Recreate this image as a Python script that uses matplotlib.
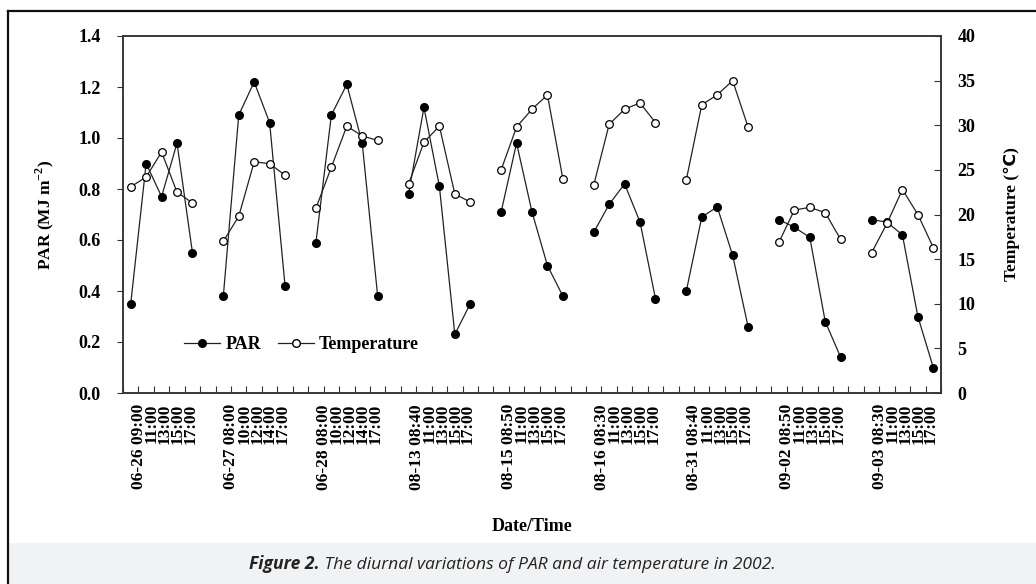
import numpy as np
import matplotlib
matplotlib.use("Agg")
import matplotlib.pyplot as plt
from matplotlib.lines import Line2D
from matplotlib.patches import Rectangle
from matplotlib.transforms import ScaledTranslation

plt.rcParams['font.family'] = ['Liberation Serif', 'DejaVu Sans']
plt.rcParams['font.weight'] = 'bold'
plt.rcParams['axes.labelweight'] = 'bold'
plt.rcParams['mathtext.fontset'] = 'custom'
plt.rcParams['mathtext.rm'] = 'Liberation Serif:bold'
plt.rcParams['mathtext.bf'] = 'Liberation Serif:bold'

# data
days = ['06-26', '06-27', '06-28', '08-13', '08-15', '08-16', '08-31', '09-02', '09-03']
times = [
    ['09:00', '11:00', '13:00', '15:00', '17:00'],
    ['08:00', '10:00', '12:00', '14:00', '17:00'],
    ['08:00', '10:00', '12:00', '14:00', '17:00'],
    ['08:40', '11:00', '13:00', '15:00', '17:00'],
    ['08:50', '11:00', '13:00', '15:00', '17:00'],
    ['08:30', '11:00', '13:00', '15:00', '17:00'],
    ['08:40', '11:00', '13:00', '15:00', '17:00'],
    ['08:50', '11:00', '13:00', '15:00', '17:00'],
    ['08:30', '11:00', '13:00', '15:00', '17:00'],
]
par = [
    [0.35, 0.90, 0.77, 0.98, 0.55],
    [0.38, 1.09, 1.22, 1.06, 0.42],
    [0.59, 1.09, 1.21, 0.98, 0.38],
    [0.78, 1.12, 0.81, 0.23, 0.35],
    [0.71, 0.98, 0.71, 0.50, 0.38],
    [0.63, 0.74, 0.82, 0.67, 0.37],
    [0.40, 0.69, 0.73, 0.54, 0.26],
    [0.68, 0.65, 0.61, 0.28, 0.14],
    [0.68, 0.67, 0.62, 0.30, 0.10],
]
temp = [
    [23.1, 24.2, 27.0, 22.5, 21.3],
    [17.0, 19.8, 25.9, 25.7, 24.4],
    [20.7, 25.3, 29.9, 28.8, 28.3],
    [23.4, 28.1, 29.9, 22.3, 21.4],
    [25.0, 29.8, 31.8, 33.4, 24.0],
    [23.3, 30.1, 31.8, 32.5, 30.3],
    [23.9, 32.3, 33.4, 35.0, 29.8],
    [16.9, 20.5, 20.8, 20.2, 17.2],
    [15.7, 19.0, 22.8, 20.0, 16.3],
]

per_day = 6  # 5 readings + 1 empty category between days
n_cat = len(days) * per_day - 1

fig = plt.figure(figsize=(10.36, 5.84), dpi=100)
ax = fig.add_axes([123 / 1036, 1 - 393 / 584, 818 / 1036, 357 / 584])
ax2 = ax.twinx()

lc = '#222222'
for d in range(len(days)):
    xs = np.arange(5) + d * per_day
    ax.plot(xs, par[d], color=lc, lw=0.9, marker='o', ms=5.5,
            mfc='black', mec='black', zorder=3)
    ax2.plot(xs, temp[d], color=lc, lw=0.9, marker='o', ms=5.5,
             mfc='white', mec='black', mew=0.9, zorder=3)

ax.set_xlim(-0.5, n_cat - 0.5)
ax.set_ylim(0, 1.4)
ax2.set_ylim(0, 40)

ax.set_yticks(np.arange(0, 1.41, 0.2))
ax.set_yticklabels(['%.1f' % v for v in np.arange(0, 1.41, 0.2)])
ax2.set_yticks(np.arange(0, 41, 5))

# tick marks on category boundaries, labels per day
ax.set_xticks(np.arange(-0.5, n_cat, 1.0), minor=True)
ax.set_xticks(np.arange(len(days)) * per_day)
labels = [days[d] + ' ' + times[d][0] + '\n' + '\n'.join(times[d][1:])
          for d in range(len(days))]
ax.set_xticklabels(labels, rotation=90, ha='left', va='top',
                   multialignment='right', linespacing=0.74, fontsize=12.5)
off = ScaledTranslation(-7 / 100, 0, fig.dpi_scale_trans)
for t in ax.get_xticklabels():
    t.set_transform(t.get_transform() + off)
ax.tick_params(axis='x', which='major', length=0, pad=8)
ax.tick_params(axis='x', which='minor', direction='in', length=5, width=0.8, color='#333333')
ax.tick_params(axis='y', direction='out', length=4, width=0.8, pad=12, labelsize=13, color='#333333')
ax2.tick_params(axis='y', direction='in', length=5, width=0.8, pad=12, labelsize=13, color='#333333')

for a in (ax, ax2):
    for s in a.spines.values():
        s.set_linewidth(1.1)
        s.set_color('#333333')

ax.set_ylabel(r'PAR (MJ m$^{-2}$)', fontsize=12.5, labelpad=16)
ax2.set_ylabel('Temperature (\u2103)', fontsize=12.5, labelpad=20)
ax.set_xlabel('Date/Time', fontsize=13)
ax.xaxis.set_label_coords(0.5, -(518 - 393) / 357)

h1 = Line2D([], [], color=lc, lw=0.9, marker='o', ms=5.5, mfc='black', mec='black')
h2 = Line2D([], [], color=lc, lw=0.9, marker='o', ms=5.5, mfc='white', mec='black')
ax2.legend([h1, h2], ['PAR', 'Temperature'], loc='center left',
           bbox_to_anchor=(0.055, 0.135), ncol=2, frameon=False,
           handlelength=2.0, handletextpad=0.3, columnspacing=0.9,
           prop={'size': 13, 'weight': 'bold'})

# page frame and caption band
fig.add_artist(Line2D([8 / 1036, 8 / 1036], [0, 1 - 11 / 584], color='#111111', lw=1.6))
fig.add_artist(Line2D([8 / 1036, 1], [1 - 11 / 584, 1 - 11 / 584], color='#111111', lw=1.6))
fig.add_artist(Rectangle((9 / 1036, 0), 1, 41 / 584, transform=fig.transFigure,
                         facecolor='#f1f2f4', edgecolor='none', zorder=0))
cap1 = fig.text(249 / 1036, 1 - 569 / 584, 'Figure 2.', family='Open Sans',
                style='italic', weight='bold', fontsize=12.6, color='#222222')
ax2.annotate(' The diurnal variations of PAR and air temperature in 2002.',
             xy=(1, 0), xycoords=cap1, va='bottom', ha='left',
             family='Open Sans', style='italic', weight='normal', fontsize=12.6,
             color='#222222', annotation_clip=False)

fig.savefig('out.png', dpi=100)
